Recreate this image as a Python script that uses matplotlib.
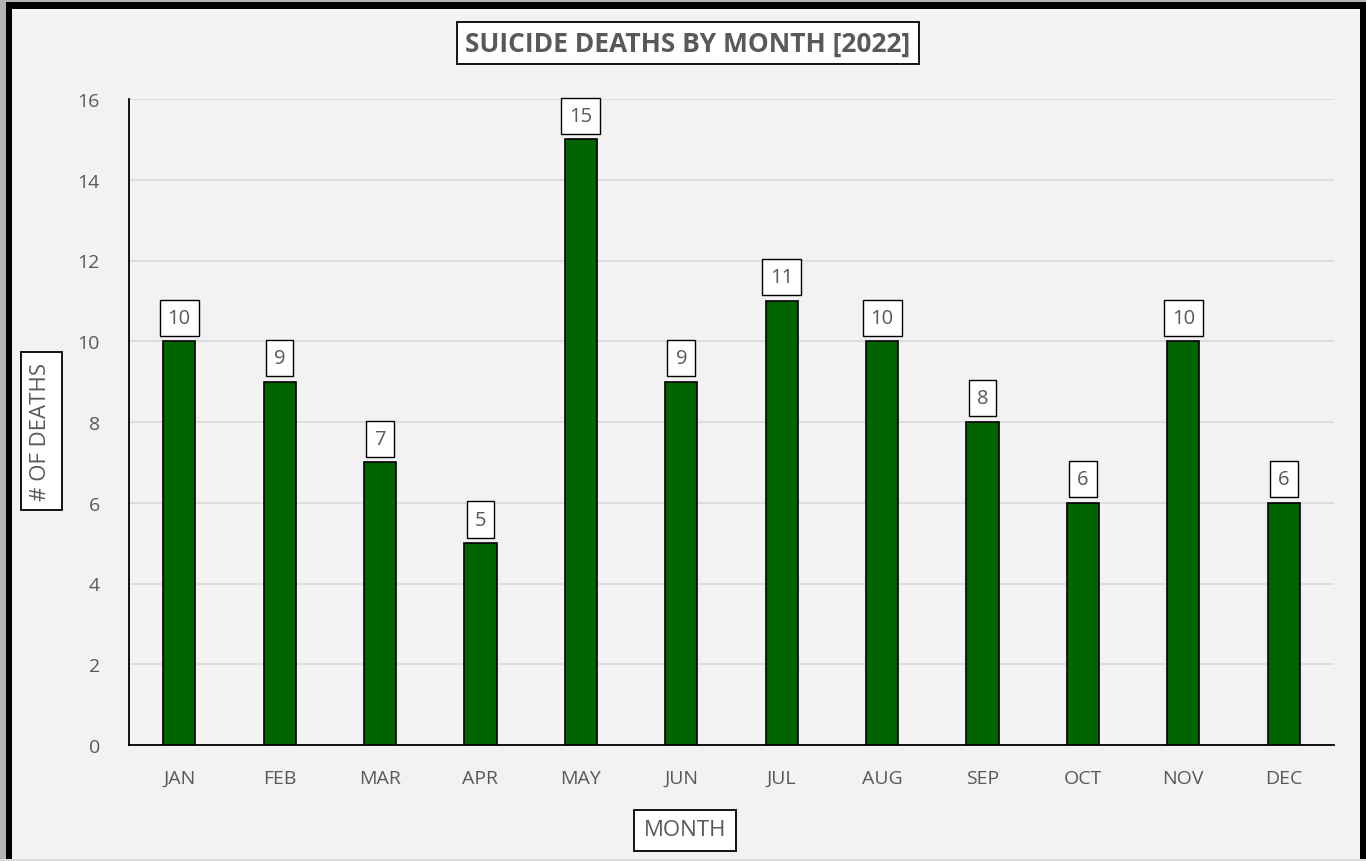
import matplotlib

matplotlib.use("Agg")
import matplotlib.pyplot as plt  # noqa: E402
from matplotlib.patches import Rectangle  # noqa: E402

months = ["JAN", "FEB", "MAR", "APR", "MAY", "JUN",
          "JUL", "AUG", "SEP", "OCT", "NOV", "DEC"]
deaths = [10, 9, 7, 5, 15, 9, 11, 10, 8, 6, 10, 6]
y_ticks = [0, 2, 4, 6, 8, 10, 12, 14, 16]

BG = "#f2f2f2"
TEXT = "#595959"
GREEN = "#006400"
GRID = "#d9d9d9"

plt.rcParams["font.family"] = ["Open Sans", "DejaVu Sans"]

W, H = 1366, 862
fig = plt.figure(figsize=(W / 100, H / 100), dpi=100)
fig.patch.set_facecolor("#dcdcdc")


def _frame_rect(x0, y0, x1, y1, color):
    # pixel box measured from the top-left corner
    fig.patches.append(Rectangle((x0 / W, 1 - y1 / H), (x1 - x0) / W, (y1 - y0) / H,
                                 transform=fig.transFigure, facecolor=color,
                                 edgecolor="none", zorder=-10))


_frame_rect(0, 0, W, 3, "#b3b3b3")
_frame_rect(0, 0, 6, 860, "#b3b3b3")
_frame_rect(6, 3, W, 860, "black")
_frame_rect(12, 10, 1360, 860, BG)

ax = fig.add_axes([129 / W, 1 - 746 / H, (1334 - 129) / W, (746 - 100) / H])
ax.set_facecolor(BG)

x = range(len(months))
ax.bar(x, deaths, width=0.32, color=GREEN, edgecolor="black", linewidth=1.2, zorder=3)

for xi, v in zip(x, deaths):
    ax.annotate(str(v), (xi, v), textcoords="offset points", xytext=(0, 17),
                ha="center", va="center", fontsize=14.5, color=TEXT, zorder=4,
                bbox=dict(boxstyle="square,pad=0.4", facecolor="white",
                          edgecolor="black", linewidth=1))

ax.set_xlim(-0.5, len(months) - 0.5)
ax.set_ylim(0, 16)
ax.set_yticks(y_ticks)
ax.set_xticks(list(x))
ax.set_xticklabels(months)
ax.yaxis.grid(True, color=GRID, linewidth=1.2, zorder=0)
ax.set_axisbelow(True)
ax.tick_params(axis="both", length=0, labelsize=14, labelcolor=TEXT)
ax.tick_params(axis="x", pad=17)
ax.tick_params(axis="y", pad=21)
for spine in ("top", "right"):
    ax.spines[spine].set_visible(False)
ax.spines["left"].set_color("black")
ax.spines["bottom"].set_color("black")
ax.spines["left"].set_linewidth(1.3)
ax.spines["bottom"].set_linewidth(1.3)

box = dict(boxstyle="square,pad=0.3", facecolor="white", edgecolor="black", linewidth=1.3)
wide_box = dict(boxstyle="square,pad=0.45", facecolor="white", edgecolor="black", linewidth=1.3)
fig.text(688 / W, 1 - 44 / H, "SUICIDE DEATHS BY MONTH [2022]", ha="center", va="center",
         fontsize=19, fontweight="bold", color=TEXT, bbox=box)
fig.text(41 / W, 1 - 432 / H, "# OF DEATHS", ha="center", va="center", rotation=90,
         fontsize=16, color=TEXT, bbox=wide_box)
fig.text(685 / W, 1 - 831 / H, "MONTH", ha="center", va="center",
         fontsize=16, color=TEXT, bbox=wide_box)

fig.savefig("out.png", dpi=100, facecolor=fig.get_facecolor())
